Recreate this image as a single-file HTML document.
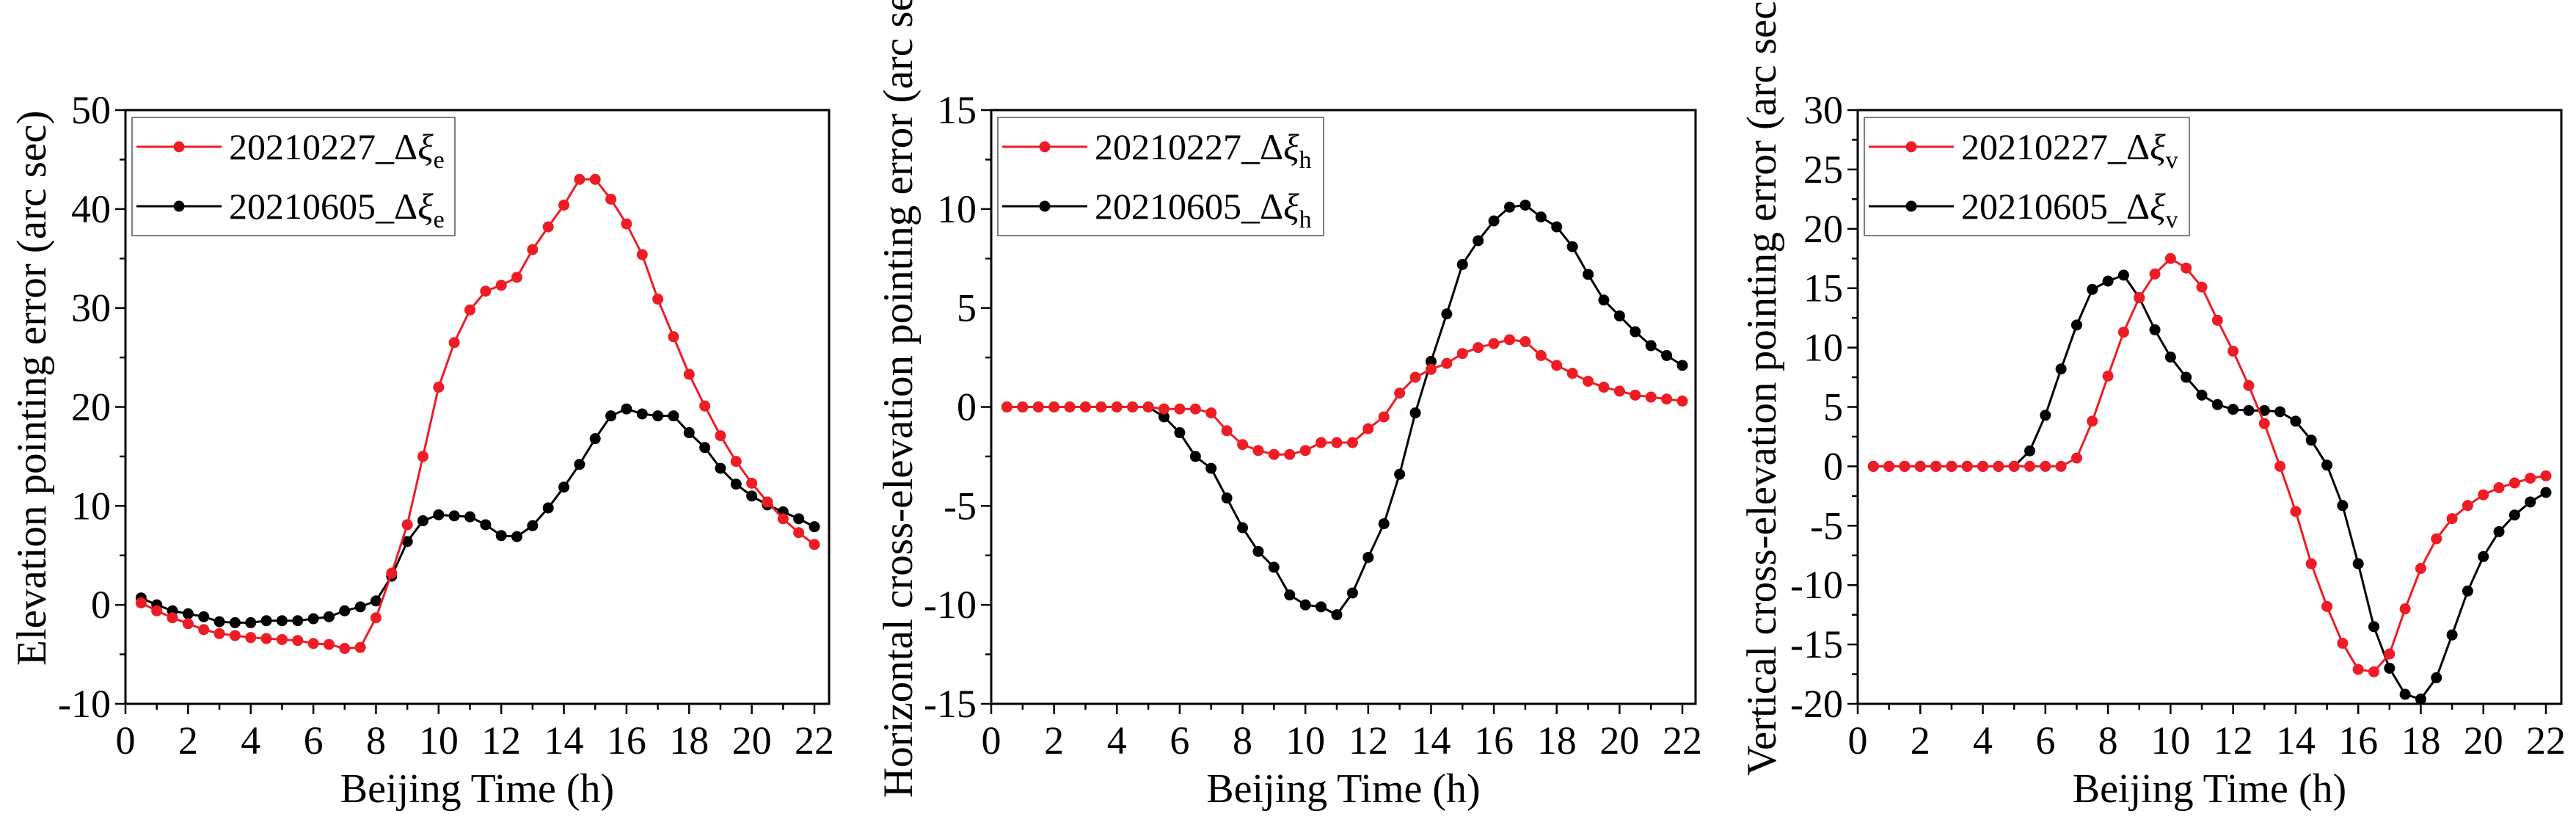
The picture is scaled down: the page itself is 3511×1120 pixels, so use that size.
<!DOCTYPE html>
<html><head><meta charset="utf-8"><style>
html,body{margin:0;padding:0;background:#fff;}
svg, svg text{font-family:"Liberation Serif","DejaVu Serif",serif;}
svg{display:block;}
</style></head><body>
<svg id="fig" width="3511" height="1120" viewBox="0 0 3511 1120" xmlns="http://www.w3.org/2000/svg" font-family="Liberation Serif, DejaVu Serif, serif"></svg>
<script>
const xHours = [0.5,1,1.5,2,2.5,3,3.5,4,4.5,5,5.5,6,6.5,7,7.5,8,8.5,9,9.5,10,10.5,11,11.5,12,12.5,13,13.5,14,14.5,15,15.5,16,16.5,17,17.5,18,18.5,19,19.5,20,20.5,21,21.5,22];
const xTicks = [0,2,4,6,8,10,12,14,16,18,20,22];
const elevRed = [0.2,-0.6,-1.3,-1.9,-2.5,-2.9,-3.1,-3.3,-3.4,-3.5,-3.6,-3.9,-4.0,-4.4,-4.3,-1.3,3.2,8.1,15,22,26.5,29.8,31.7,32.3,33.1,35.9,38.2,40.4,43,43,41,38.5,35.4,30.9,27.1,23.3,20.1,17.1,14.5,12.3,10.4,8.7,7.3,6.1];
const elevBlack = [0.7,0,-0.6,-0.9,-1.2,-1.7,-1.8,-1.8,-1.6,-1.6,-1.6,-1.4,-1.2,-0.6,-0.2,0.4,2.9,6.4,8.5,9.1,9.0,8.9,8.1,7.0,6.9,8.0,9.8,11.9,14.2,16.8,19.1,19.8,19.3,19.1,19.1,17.4,15.9,13.8,12.2,11.0,10.1,9.4,8.7,7.9];
const horRed = [0,0,0,0,0,0,0,0,0,0,-0.1,-0.1,-0.1,-0.3,-1.2,-1.9,-2.2,-2.4,-2.4,-2.2,-1.8,-1.8,-1.8,-1.1,-0.5,0.7,1.5,1.9,2.2,2.7,3.0,3.2,3.4,3.3,2.6,2.1,1.7,1.3,1.0,0.8,0.6,0.5,0.4,0.3];
const horBlack = [0,0,0,0,0,0,0,0,0,0,-0.5,-1.3,-2.5,-3.1,-4.6,-6.1,-7.3,-8.1,-9.5,-10,-10.1,-10.5,-9.4,-7.6,-5.9,-3.4,-0.3,2.3,4.7,7.2,8.4,9.4,10.1,10.2,9.6,9.1,8.1,6.7,5.4,4.6,3.8,3.1,2.6,2.1];
const verRed = [0,0,0,0,0,0,0,0,0,0,0,0,0,0.7,3.8,7.6,11.3,14.2,16.2,17.5,16.7,15.1,12.3,9.7,6.8,3.6,0,-3.8,-8.2,-11.8,-14.9,-17.1,-17.3,-15.8,-12,-8.6,-6.1,-4.4,-3.3,-2.4,-1.8,-1.4,-1.0,-0.8];
const verBlack = [0,0,0,0,0,0,0,0,0,0,1.3,4.3,8.2,11.9,14.9,15.6,16.1,14.2,11.5,9.2,7.5,6.0,5.2,4.8,4.7,4.7,4.6,3.8,2.2,0.1,-3.3,-8.2,-13.5,-17,-19.2,-19.6,-17.8,-14.2,-10.5,-7.6,-5.5,-4.1,-3.0,-2.2];
const elevYTicks = [-10,0,10,20,30,40,50];
const horYTicks = [-15,-10,-5,0,5,10,15];
const verYTicks = [-20,-15,-10,-5,0,5,10,15,20,25,30];

const NS="http://www.w3.org/2000/svg";
const FF='Liberation Serif, DejaVu Serif, serif';
const svg=document.getElementById('fig');
function mk(tag,attrs,parent){const e=document.createElementNS(NS,tag);for(const k in attrs)e.setAttribute(k,attrs[k]);if(tag==='text')e.setAttribute('font-family',FF);(parent||svg).appendChild(e);return e;}

function chart(cfg){
  const g=mk('g',{});
  
  
  const L=cfg.left,R=cfg.right,T=150,B=959;
  const x0px=cfg.x0, x22px=cfg.x22;
  const sx=v=>x0px+(v)*(x22px-x0px)/22;
  const sy=v=>B-(v-cfg.ymin)*(B-T)/(cfg.ymax-cfg.ymin);
  const fr=mk('rect',{x:L,y:T,width:R-L,height:B-T,fill:'none',stroke:'#000','stroke-width':3},g);
  
  
  for(let v=0;v<=22;v+=1){
    const major=v%2===0;
    const t=mk('line',{x1:sx(v),x2:sx(v),y1:B,y2:B+(major?14:8),stroke:'#000','stroke-width':2.5},g);
    
    
  }
  xTicks.forEach(v=>{
    const t=mk('text',{x:sx(v),y:1027,'font-size':54,'text-anchor':'middle'},g);t.textContent=v;
    
    
  });
  const step=cfg.yTicks[1]-cfg.yTicks[0];
  for(let v=cfg.ymin;v<=cfg.ymax+1e-9;v+=step/2){
    const major=Math.abs(((v-cfg.ymin)/step)-Math.round((v-cfg.ymin)/step))<1e-6;
    const t=mk('line',{x1:L,x2:L-(major?14:8),y1:sy(v),y2:sy(v),stroke:'#000','stroke-width':2.5},g);
    
    
  }
  cfg.yTicks.forEach(v=>{
    const t=mk('text',{x:L-20,y:sy(v)+18,'font-size':54,'text-anchor':'end'},g);t.textContent=v;
    
    
  });
  const xt=mk('text',{x:(L+R)/2,y:1093,'font-size':56,'text-anchor':'middle'},g);xt.textContent='Beijing Time (h)';
  
  
  const yt=mk('text',{x:0,y:0,'font-size':cfg.ylabSize,'text-anchor':'start',transform:`translate(${cfg.ylabX},${cfg.ylabBottom}) rotate(-90)`},g);yt.textContent=cfg.ylabel;
  
  
  const series=[{d:cfg.black,c:'#000',n:'series-20210605'},{d:cfg.red,c:'#ee1c25',n:'series-20210227'}];
  series.forEach(s=>{
    const sg=mk('g',{},g);
    
    
    const pts=xHours.map((x,i)=>sx(x)+','+sy(s.d[i])).join(' ');
    const pl=mk('polyline',{points:pts,fill:'none',stroke:s.c,'stroke-width':3},sg);
    
    
    xHours.forEach((x,i)=>{
      const c=mk('circle',{cx:sx(x),cy:sy(s.d[i]),r:7.5,fill:s.c},sg);
      
      
    });
  });
  const lg=mk('g',{},g);
  
  
  const lx=cfg.legX;
  mk('rect',{x:lx,y:160,width:cfg.legW,height:161,fill:'#fff',stroke:'#555','stroke-width':1.5},lg);
  [{c:'#ee1c25',t:'20210227',y:200},{c:'#000',t:'20210605',y:281}].forEach(e=>{
    const eg=mk('g',{},lg);
    
    
    mk('line',{x1:lx+6,x2:lx+122,y1:e.y,y2:e.y,stroke:e.c,'stroke-width':3},eg);
    mk('circle',{cx:lx+64,cy:e.y,r:7.5,fill:e.c},eg);
    const t=mk('text',{x:lx+132,y:e.y+17,'font-size':50},eg);
    t.innerHTML=e.t+'_Δ<tspan font-style="italic">ξ</tspan><tspan font-size="34" dy="12">'+cfg.sub+'</tspan>';
  });
}
chart({name:'elevation-chart',left:171,right:1130,x0:171,x22:1110,ymin:-10,ymax:50,yTicks:elevYTicks,red:elevRed,black:elevBlack,ylabel:'Elevation pointing error (arc sec)',ylabX:62,ylabBottom:907,ylabSize:57,legX:180,legW:440,sub:'e'});
chart({name:'horizontal-chart',left:1351,right:2311,x0:1351,x22:2293,ymin:-15,ymax:15,yTicks:horYTicks,red:horRed,black:horBlack,ylabel:'Horizontal cross-elevation pointing error (arc sec)',ylabX:1243,ylabBottom:1087,ylabSize:57,legX:1360,legW:444,sub:'h'});
chart({name:'vertical-chart',left:2532,right:3491,x0:2532,x22:3470,ymin:-20,ymax:30,yTicks:verYTicks,red:verRed,black:verBlack,ylabel:'Vertical cross-elevation pointing error (arc sec)',ylabX:2420,ylabBottom:1057,ylabSize:57,legX:2541,legW:443,sub:'v'});
</script>
</body></html>
